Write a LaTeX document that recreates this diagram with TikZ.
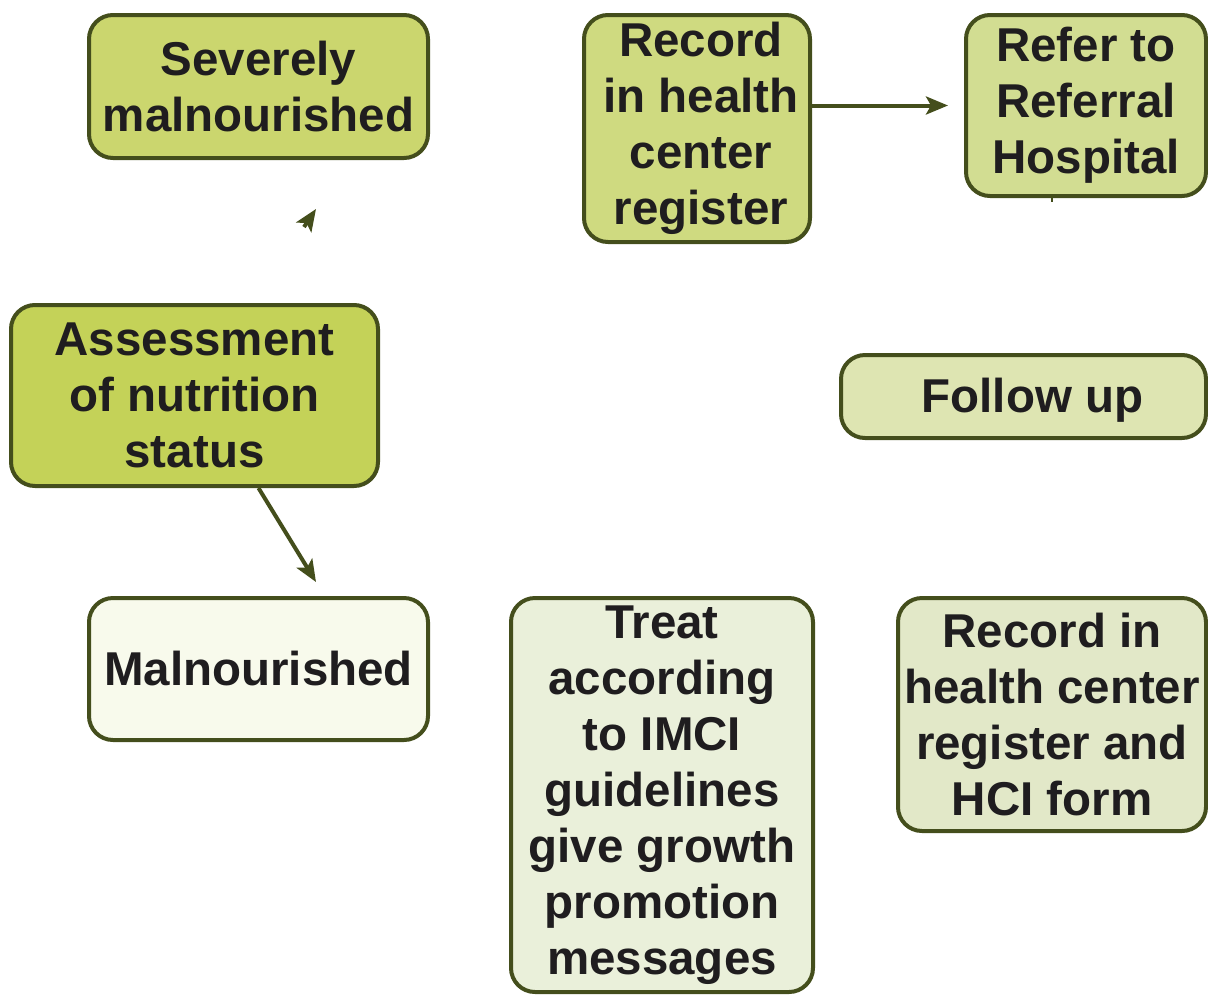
\documentclass[tikz,border=0pt]{standalone}
\usepackage{fontspec}
\setmainfont{Liberation Sans}
\usetikzlibrary{arrows.meta}
\definecolor{edge}{RGB}{68,78,28}
\definecolor{ink}{RGB}{31,29,31}
\definecolor{fAssess}{RGB}{196,210,88}
\definecolor{fSevere}{RGB}{203,214,110}
\definecolor{fRecord}{RGB}{207,218,128}
\definecolor{fRefer}{RGB}{210,221,146}
\definecolor{fFollow}{RGB}{222,229,178}
\definecolor{fHci}{RGB}{226,232,200}
\definecolor{fTreat}{RGB}{234,240,218}
\definecolor{fMal}{RGB}{248,250,236}
\tikzset{
  box/.style={draw=edge, line width=4pt, rounded corners=24pt, align=center,
    text=ink, inner sep=0pt,
    font=\fontsize{47.5}{56}\selectfont\bfseries},
  conn/.style={draw=edge, line width=4pt,
    -{Stealth[length=22pt,width=18pt,inset=5pt]}},
}
\begin{document}
\begin{tikzpicture}[x=1pt,y=-1pt]
\useasboundingbox (0,0) rectangle (1208,994);
% boxes (centre, border-line width and height)
\node[box, fill=fSevere, minimum width=339pt, minimum height=143pt] (sev) at (258.5,86.5) {Severely\\malnourished};
\node[box, fill=fRecord, minimum width=226pt, minimum height=227pt] (rec) at (697,128.5) {\hspace*{8pt}Record\\\hspace*{8pt}in health\\\hspace*{8pt}center\\\hspace*{8pt}register};
\node[box, fill=fRefer, minimum width=240pt, minimum height=181pt] (ref) at (1086,105.5) {Refer to\\Referral\\Hospital};
\node[box, fill=fAssess, minimum width=367pt, minimum height=181pt] (ass) at (194.5,395.5) {Assessment\\of nutrition\\status};
\node[box, fill=fFollow, minimum width=365pt, minimum height=83pt] (fol) at (1023.5,396.5) {\hspace*{18pt}\raisebox{-4pt}[\height][\depth]{Follow up}};
\node[box, fill=fMal, minimum width=339pt, minimum height=142pt] (mal) at (258.5,669) {Malnourished};
\node[box, fill=fTreat, minimum width=302pt, minimum height=394pt] (trt) at (662,795) {Treat\\according\\to IMCI\\guidelines\\give growth\\promotion\\messages};
\node[box, fill=fHci, minimum width=308pt, minimum height=233pt] (hci) at (1052,714.5) {Record in\\health center\\register and\\HCI form};
% connectors
\draw[conn, shorten >=16pt] (rec.east |- ref.west) -- (ref.west);
\coordinate (malTip) at (316,582);
\draw[conn] (ass.south -| mal.north) -- (malTip);
\coordinate (sevBack) at (304,227);
\coordinate (sevTip) at (316,209);
\draw[conn] (sevBack) -- (sevTip);
\coordinate (refTick) at (1052,202);
\draw[draw=edge, line width=2pt] (ref.south -| refTick) -- (refTick);
\end{tikzpicture}
\end{document}
